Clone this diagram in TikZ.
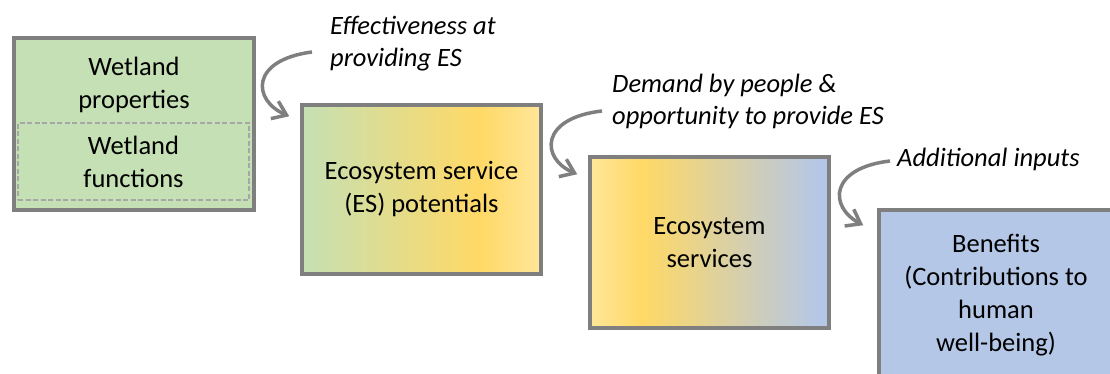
\documentclass[tikz,border=0pt]{standalone}
\usepackage{fontspec}
\setmainfont{Carlito}
\usetikzlibrary{arrows.meta}

\definecolor{boxgray}{HTML}{7F7F7F}
\definecolor{dashgray}{HTML}{A6A6A6}
\definecolor{wetgreen}{HTML}{C5E0B4}
\definecolor{esgold}{HTML}{FFD966}
\definecolor{eslight}{HTML}{FFE699}
\definecolor{benblue}{HTML}{B4C7E7}

% left to right fills, the node spans 25bp..75bp
\pgfdeclarehorizontalshading{potshade}{100bp}{color(0bp)=(wetgreen); color(25bp)=(wetgreen);
  color(62bp)=(esgold); color(75bp)=(eslight); color(100bp)=(eslight)}
\pgfdeclarehorizontalshading{servshade}{100bp}{color(0bp)=(eslight); color(25bp)=(eslight);
  color(36bp)=(esgold); color(73bp)=(benblue); color(100bp)=(benblue)}

\begin{document}
\begin{tikzpicture}[x=1pt,y=-1pt,
	box/.style={draw=boxgray, line width=3.5pt, rectangle, align=center,
		font=\fontsize{26.5}{33}\selectfont},
	txt/.style={align=center, inner sep=0pt, font=\fontsize{26.5}{33}\selectfont},
	lbl/.style={anchor=base west, inner sep=0pt, align=left,
		font=\fontsize{26.5}{32}\selectfont\itshape},
	flow/.style={draw=boxgray, line width=3.5pt, -{Straight Barb[length=13pt,width=19pt]}}]

	\useasboundingbox (0,0) rectangle (1110,374);
	\clip (0,0) rectangle (1110,374);

	\node[box, fill=wetgreen, minimum width=240pt, minimum height=172pt] (wet) at (134,124) {};
	\node[txt] (prop) at (134,85) {Wetland\\properties};
	\node[txt, draw=dashgray, line width=1.2pt, dash pattern=on 5pt off 2.5pt,
		minimum width=231pt, minimum height=77pt] (fun) at (133.5,161.5) {Wetland\\functions};

	\node[box, shade, shading=potshade, minimum width=239pt, minimum height=169pt] (pot) at (421.5,189.5) {Ecosystem service\\(ES) potentials};
	\node[box, shade, shading=servshade, minimum width=239pt, minimum height=171pt] (serv) at (709.5,242.5) {Ecosystem\\services};
	\node[box, fill=benblue, minimum width=234pt, minimum height=170pt] (ben) at (996,295) {Benefits\\(Contributions to\\human\\well-being)};

	% base west sits on the last line
	\node[lbl] (eff) at (330,67) {Effectiveness at\\providing ES};
	\node[lbl] (dem) at (612,125) {Demand by people \&\\opportunity to provide ES};
	\node[lbl] (add) at (897,167) {Additional inputs};

	\draw[flow] ([shift={(-18,-15)}]eff.base west) .. controls +(-62,8) and +(-37,-16) .. ([shift={(-11,13)}]pot.north west);
	\draw[flow] ([shift={(-10,-14)}]dem.base west) .. controls +(-62,7) and +(-37,-16) .. ([shift={(-11,19)}]serv.north west);
	\draw[flow] ([shift={(-7,-6)}]add.base west) .. controls +(-60,7) and +(-35,-19) .. ([shift={(-14,17)}]ben.north west);

\end{tikzpicture}
\end{document}
